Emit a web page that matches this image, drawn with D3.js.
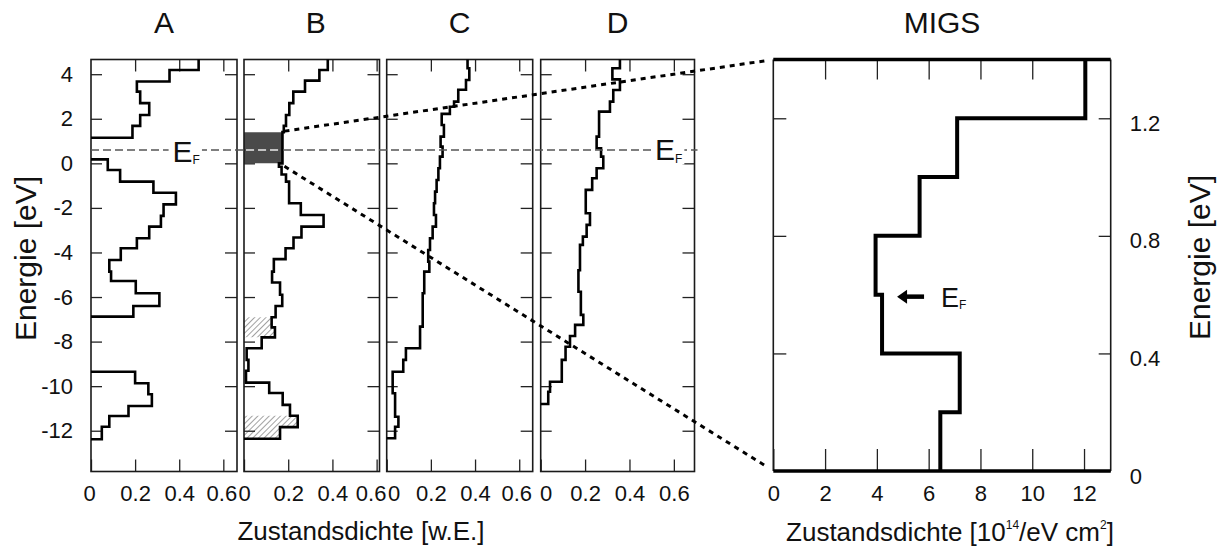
<!DOCTYPE html>
<html><head><meta charset="utf-8">
<script src="https://cdn.jsdelivr.net/npm/d3@7"></script>
<style>
body{margin:0;background:#fff}
svg{display:block}
text{font-family:"Liberation Sans",Arial,Helvetica,sans-serif;fill:#111}
</style>
</head><body>
<svg id="c" width="1231" height="552"></svg>
<script>
// ---------------- data ----------------
const panelNames = ["A", "B", "C", "D"];
// bin edges (eV, top to bottom) and density of states (w.E.) per bin
const aEdges = [4.66, 4.19, 3.67, 3.22, 2.70, 2.17, 1.68, 1.15, 0.18, -0.30, -0.82, -1.32, -1.84, -2.36, -2.84, -3.36, -3.81, -4.34, -4.86, -5.28, -5.83, -6.40, -6.88, -9.35, -9.87, -10.36, -10.89, -11.34, -11.82, -12.38, -13.83];
const aValues = [0.488, 0.356, 0.208, 0.223, 0.264, 0.223, 0.188, 0, 0.076, 0.132, 0.283, 0.385, 0.329, 0.317, 0.264, 0.208, 0.135, 0.083, 0.091, 0.203, 0.31, 0.192, 0, 0.2, 0.26, 0.276, 0.17, 0.083, 0.049, 0];
const bEdges = [4.66, 4.19, 3.71, 3.22, 2.70, 2.17, 1.68, 1.40, 0.0, -0.15, -0.50, -0.82, -1.79, -2.32, -2.84, -3.33, -3.81, -4.30, -4.86, -5.35, -5.90, -6.40, -6.91, -7.36, -7.81, -8.30, -8.82, -9.31, -9.84, -10.31, -10.84, -11.33, -11.84, -12.36, -13.83];
const bValues = [0.379, 0.341, 0.276, 0.223, 0.205, 0.19, 0.18, 0.174, 0.158, 0.17, 0.19, 0.204, 0.257, 0.36, 0.26, 0.224, 0.188, 0.135, 0.127, 0.163, 0.173, 0.143, 0.125, 0.14, 0.08, 0.012, 0.02, 0.009, 0.114, 0.175, 0.208, 0.243, 0.163, 0];
const cEdges = [4.66, 4.27, 3.74, 3.30, 2.77, 2.54, 2.22, 1.72, 1.20, 0.75, 0.30, -0.22, -0.75, -1.27, -1.79, -2.32, -2.84, -3.36, -3.89, -4.41, -4.86, -5.83, -7.33, -8.30, -8.82, -9.35, -10.32, -11.37, -11.82, -12.34, -13.83];
const cValues = [0.366, 0.374, 0.359, 0.324, 0.305, 0.286, 0.249, 0.259, 0.244, 0.253, 0.241, 0.234, 0.226, 0.219, 0.214, 0.223, 0.208, 0.196, 0.188, 0.193, 0.17, 0.163, 0.151, 0.087, 0.075, 0.027, 0.038, 0.053, 0.038, 0];
const dEdges = [4.66, 4.27, 3.77, 3.29, 2.77, 2.32, 1.20, 0.68, 0.30, -0.22, -0.67, -1.19, -2.24, -2.76, -3.29, -3.66, -4.80, -5.76, -6.80, -7.25, -7.75, -8.23, -8.82, -9.80, -10.25, -10.80, -13.83];
const dValues = [0.357, 0.323, 0.357, 0.327, 0.312, 0.263, 0.252, 0.272, 0.282, 0.252, 0.232, 0.203, 0.222, 0.207, 0.19, 0.177, 0.17, 0.181, 0.192, 0.155, 0.132, 0.112, 0.095, 0.042, 0.034, 0];
const energyTicks = [4, 2, 0, -2, -4, -6, -8, -10, -12];
const dosTicks = [0, 0.2, 0.4, 0.6];
const fermiEnergy = 0.6;
const migsRange = [0, 1.4];            // energy window shown in MIGS (dark area in B)
const hatchRanges = [[-7.81, -6.91], [-12.36, -11.33]];
// MIGS panel
const migsEdges = [0, 0.2, 0.4, 0.6, 0.8, 1.0, 1.2, 1.4];
const migsValues = [6.45, 7.2, 4.2, 3.95, 5.65, 7.1, 12.05];
const migsXTicks = [0, 2, 4, 6, 8, 10, 12];
const migsYTicks = [0, 0.4, 0.8, 1.2];

// ---------------- drawing ----------------
const svg = d3.select("#c");
const defs = svg.append("defs");
const pat = defs.append("pattern").attr("id", "hatch").attr("patternUnits", "userSpaceOnUse")
  .attr("width", 4).attr("height", 4).attr("patternTransform", "rotate(45)");
pat.append("rect").attr("width", 4).attr("height", 4).attr("fill", "#fff");
pat.append("line").attr("x1", 0).attr("y1", 0).attr("x2", 0).attr("y2", 4)
  .attr("stroke", "#7a7a7a").attr("stroke-width", 1.4);

const yE = d3.scaleLinear().domain([-13.83, 4.66]).range([471.5, 59.5]);

const layout = [
  {x0: 91, x1: 237, max: 0.662},
  {x0: 244, x1: 379.5, max: 0.613},
  {x0: 386.7, x1: 532.7, max: 0.661},
  {x0: 540.7, x1: 694.5, max: 0.693}
];
// small horizontal nudges of x tick labels (px) so neighbouring labels do not collide
const labelNudge = [
  {0: -2, 0.6: -2},
  {0: 0, 0.6: -6},
  {0: 7, 0.6: -3},
  {0: 5, 0.6: 0}
];
const series = [[aEdges, aValues], [bEdges, bValues], [cEdges, cValues], [dEdges, dValues]];

function stepPoints(edges, values) {
  const pts = [];
  values.forEach((v, i) => {
    if (v === 0) { pts.push({v: 0, e: edges[i]}); pts.push(null); pts.push({v: 0, e: edges[i + 1]}); }
    else { pts.push({v, e: edges[i]}); pts.push({v, e: edges[i + 1]}); }
  });
  return pts;
}
function rangePoints(edges, values, lo, hi) {
  const pts = [];
  values.forEach((v, i) => {
    const top = Math.min(edges[i], hi), bot = Math.max(edges[i + 1], lo);
    if (top > bot) { pts.push({v, e: top}); pts.push({v, e: bot}); }
  });
  return pts;
}
const fmtDos = d => d === 0 ? "0" : d.toFixed(1);
const fmtE = d => String(d);

function styleAxis(g) {
  g.select(".domain").remove();
  g.selectAll(".tick line").attr("stroke", "#222").attr("stroke-width", 1.3);
}

const xScales = [];
layout.forEach((L, i) => {
  const x = d3.scaleLinear().domain([0, L.max]).range([L.x0, L.x1]);
  xScales.push(x);
  const g = svg.append("g");
  const [edges, values] = series[i];

  // shading in B
  if (i === 1) {
    const area = d3.area().x0(x(0)).x1(d => x(d.v)).y(d => yE(d.e));
    hatchRanges.forEach(r => {
      g.append("path").attr("d", area(rangePoints(edges, values, r[0], r[1])))
        .attr("fill", "url(#hatch)");
    });
    g.append("path").attr("d", area(rangePoints(edges, values, migsRange[0], migsRange[1])))
      .attr("fill", "#4a4a4a");
  }

  // axes
  g.append("g").attr("transform", `translate(${L.x0},0)`)
    .call(d3.axisLeft(yE).tickValues(energyTicks).tickSize(-11).tickPadding(18)
      .tickFormat(i === 0 ? fmtE : ""))
    .call(styleAxis)
    .selectAll("text").attr("font-size", 22).attr("font-family", null).attr("fill", "#111");
  g.append("g").attr("transform", `translate(${L.x1},0)`)
    .call(d3.axisRight(yE).tickValues(energyTicks).tickSize(-12).tickFormat(""))
    .call(styleAxis);
  g.append("g").attr("transform", `translate(0,${yE.range()[0]})`)
    .call(d3.axisBottom(x).tickValues(dosTicks).tickSize(-12).tickPadding(14).tickFormat(fmtDos))
    .call(styleAxis)
    .selectAll("text").attr("font-size", 22).attr("font-family", null).attr("fill", "#111")
    .attr("dx", d => labelNudge[i][d] || 0);
  g.append("g").attr("transform", `translate(0,${yE.range()[1]})`)
    .call(d3.axisTop(x).tickValues(dosTicks.slice(1)).tickSize(-12).tickFormat(""))
    .call(styleAxis);

  // frame
  g.append("rect").attr("x", L.x0).attr("y", yE.range()[1])
    .attr("width", L.x1 - L.x0).attr("height", yE.range()[0] - yE.range()[1])
    .attr("fill", "none").attr("stroke", "#1a1a1a").attr("stroke-width", 1.6);

  // step curve
  const line = d3.line().defined(d => d !== null).x(d => x(d.v)).y(d => yE(d.e));
  g.append("path").attr("d", line(stepPoints(edges, values)))
    .attr("fill", "none").attr("stroke", "#000").attr("stroke-width", 2.6)
    .attr("stroke-linejoin", "miter");

  // panel title
  svg.append("text").attr("x", (L.x0 + L.x1) / 2 + (i === 1 ? 4 : 0)).attr("y", 32.5)
    .attr("text-anchor", "middle").attr("font-size", 30).text(panelNames[i]);
});

// Fermi level dashed line
const yF = yE(fermiEnergy);
svg.append("line").attr("x1", layout[0].x0).attr("x2", layout[3].x1 + 3)
  .attr("y1", yF).attr("y2", yF)
  .attr("stroke", "#555").attr("stroke-width", 1.6).attr("stroke-dasharray", "8,4");
// white dashes in dark area of B
const xB = xScales[1];
const bShadeV = rangePoints(bEdges, bValues, migsRange[0], migsRange[1])[0].v;
svg.append("line").attr("x1", xB(0) + 2).attr("x2", xB(bShadeV) - 3)
  .attr("y1", yF).attr("y2", yF)
  .attr("stroke", "#e8e8e8").attr("stroke-width", 1.6).attr("stroke-dasharray", "8,4");

// E_F labels
function efLabel(x, yBase, size, subSize, bg) {
  const t = svg.append("text").attr("x", x).attr("y", yBase).attr("font-size", size);
  t.append("tspan").text("E");
  t.append("tspan").attr("font-size", subSize).attr("dy", size * 0.07).text("F");
  if (bg) {
    const bb = t.node().getBBox();
    svg.insert("rect", () => t.node()).attr("x", bb.x - 4).attr("y", bb.y + 4)
      .attr("width", bb.width + 6).attr("height", bb.height - 6).attr("fill", "#fff");
  }
  return t;
}
efLabel(xScales[0](0.37), yF + 12, 30, 12, true);
efLabel(xScales[3](0.515), yF + 10.5, 30, 12, true);

// ---------------- MIGS panel ----------------
const M = {x0: 773.3, x1: 1110.7, y0: 471, y1: 59.5};
const xM = d3.scaleLinear().domain([0, 13.03]).range([M.x0, M.x1]);
const yM = d3.scaleLinear().domain([0, 1.4]).range([M.y0, M.y1]);
const gm = svg.append("g");
gm.append("g").attr("transform", `translate(${M.x0},0)`)
  .call(d3.axisLeft(yM).tickValues(migsYTicks.slice(1)).tickSize(-13).tickFormat(""))
  .call(styleAxis);
gm.append("g").attr("transform", `translate(${M.x1},0)`)
  .call(d3.axisRight(yM).tickValues(migsYTicks).tickSize(-12).tickPadding(19).tickFormat(d => d === 0 ? "0" : d.toFixed(1)))
  .call(styleAxis)
  .selectAll("text").attr("font-size", 22).attr("font-family", null).attr("fill", "#111").attr("dy", "0.55em");
gm.append("g").attr("transform", `translate(0,${M.y0})`)
  .call(d3.axisBottom(xM).tickValues(migsXTicks).tickSize(-22).tickPadding(14).tickFormat(d => String(d)))
  .call(styleAxis)
  .selectAll("text").attr("font-size", 22).attr("font-family", null).attr("fill", "#111");
gm.append("g").attr("transform", `translate(0,${M.y1})`)
  .call(d3.axisTop(xM).tickValues(migsXTicks.slice(1)).tickSize(-20).tickFormat(""))
  .call(styleAxis);
gm.append("line").attr("x1", M.x0).attr("x2", M.x0).attr("y1", M.y0).attr("y2", M.y1)
  .attr("stroke", "#1a1a1a").attr("stroke-width", 1.6);
gm.append("line").attr("x1", M.x1).attr("x2", M.x1).attr("y1", M.y0).attr("y2", M.y1)
  .attr("stroke", "#1a1a1a").attr("stroke-width", 1.6);
gm.append("line").attr("x1", M.x0).attr("x2", M.x1).attr("y1", M.y1).attr("y2", M.y1)
  .attr("stroke", "#000").attr("stroke-width", 3.4);
gm.append("line").attr("x1", M.x0).attr("x2", M.x1).attr("y1", M.y0).attr("y2", M.y0)
  .attr("stroke", "#000").attr("stroke-width", 3.4);
const mline = d3.line().defined(d => d !== null).x(d => xM(d.v)).y(d => yM(d.e));
const migsPts = stepPoints(migsEdges.slice().reverse(), migsValues.slice().reverse());
gm.append("path").attr("d", mline(migsPts)).attr("fill", "none")
  .attr("stroke", "#000").attr("stroke-width", 4).attr("stroke-linejoin", "miter");
svg.append("text").attr("x", (M.x0 + M.x1) / 2).attr("y", 32.5)
  .attr("text-anchor", "middle").attr("font-size", 30).text("MIGS");

// arrow to E_F in MIGS
const yMF = yM(fermiEnergy) + 2;
const fIdx = migsEdges.findIndex(e => e >= fermiEnergy) - 1;
const tipX = xM(migsValues[Math.max(fIdx, 0)]) + 15;
gm.append("line").attr("x1", tipX + 7).attr("x2", tipX + 27).attr("y1", yMF).attr("y2", yMF)
  .attr("stroke", "#000").attr("stroke-width", 4.5);
gm.append("path").attr("d", `M${tipX},${yMF} L${tipX + 10},${yMF - 7} L${tipX + 10},${yMF + 7} Z`).attr("fill", "#000");
efLabel(tipX + 44, yMF + 10, 27, 12, false);

// dotted connector lines from B dark area to MIGS
[[migsRange[1], M.y1], [migsRange[0], M.y0]].forEach(([e, yy]) => {
  svg.append("line").attr("x1", xB(bShadeV) + 2).attr("y1", yE(e) + (e === 0 ? 3 : -1))
    .attr("x2", M.x0 - 6).attr("y2", yy + (e === 0 ? -4 : 1))
    .attr("stroke", "#000").attr("stroke-width", 3).attr("stroke-dasharray", "5,5");
});

// axis titles
svg.append("text").attr("x", 361).attr("y", 540).attr("text-anchor", "middle")
  .attr("font-size", 26).text("Zustandsdichte [w.E.]");
const xt = svg.append("text").attr("x", 950).attr("y", 541).attr("text-anchor", "middle").attr("font-size", 26);
xt.append("tspan").text("Zustandsdichte [10");
xt.append("tspan").attr("font-size", 12).attr("dy", -12).text("14");
xt.append("tspan").attr("dy", 12).text("/eV cm");
xt.append("tspan").attr("font-size", 12).attr("dy", -12).text("2");
xt.append("tspan").attr("dy", 12).text("]");
svg.append("text").attr("transform", "translate(36,258.5) rotate(-90)").attr("text-anchor", "middle")
  .attr("font-size", 30).text("Energie [eV]");
svg.append("text").attr("transform", "translate(1210,257.5) rotate(-90)").attr("text-anchor", "middle")
  .attr("font-size", 30).text("Energie [eV]");
</script>
</body></html>
